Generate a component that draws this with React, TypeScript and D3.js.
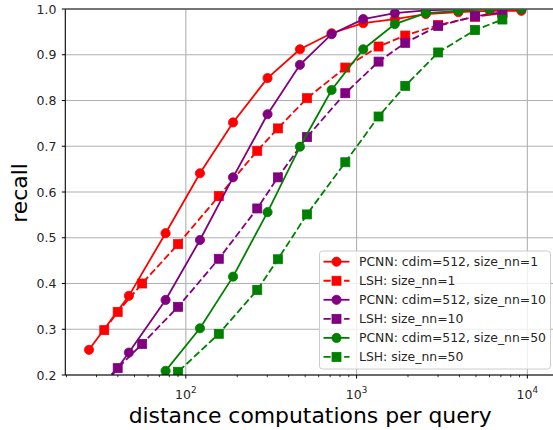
import React from 'react'
import * as d3 from 'd3'

// x positions (distance computations per query)
const pcnnX = [27.1, 46.4, 76.1, 121, 189, 301, 466, 714, 1094, 1675, 2543, 3948, 6020, 9225]
const lshX = [33.3, 39.9, 55.5, 90.1, 156, 262, 346, 512, 859, 1345, 1928, 3004, 4940, 7145]

// recall values (null = no point)
const pcnn1 = [0.255, 0.373, 0.51, 0.641, 0.752, 0.849, 0.912, 0.947, 0.969, 0.978, 0.989, 0.993, 0.996, 0.996]
const lsh1 = [0.298, 0.338, 0.4, 0.486, 0.591, 0.69, 0.739, 0.805, 0.872, 0.918, 0.942, 0.965, 0.983, 0.991]
const pcnn10 = [0.13, 0.249, 0.364, 0.495, 0.632, 0.77, 0.878, 0.945, 0.978, 0.991, 0.997, 0.999, 1.0, 1.0]
const lsh10 = [0.185, 0.215, 0.268, 0.349, 0.454, 0.564, 0.632, 0.72, 0.816, 0.885, 0.926, 0.963, 0.984, 0.993]
const pcnn50 = [null, 0.11, 0.209, 0.302, 0.415, 0.556, 0.699, 0.823, 0.912, 0.967, 0.991, 0.996, 1.0, 1.0]
const lsh50 = [null, null, 0.13, 0.207, 0.29, 0.386, 0.453, 0.551, 0.665, 0.765, 0.832, 0.905, 0.954, 0.977]

const series = [
  { label: 'PCNN: cdim=512, size_nn=1', color: 'red', x: pcnnX, y: pcnn1, dashed: false },
  { label: 'LSH: size_nn=1', color: 'red', x: lshX, y: lsh1, dashed: true },
  { label: 'PCNN: cdim=512, size_nn=10', color: 'purple', x: pcnnX, y: pcnn10, dashed: false },
  { label: 'LSH: size_nn=10', color: 'purple', x: lshX, y: lsh10, dashed: true },
  { label: 'PCNN: cdim=512, size_nn=50', color: 'green', x: pcnnX, y: pcnn50, dashed: false },
  { label: 'LSH: size_nn=50', color: 'green', x: lshX, y: lsh50, dashed: true },
]

const yTicks = [0.2, 0.3, 0.4, 0.5, 0.6, 0.7, 0.8, 0.9, 1.0]
const xTicks = [100, 1000, 10000]

const W = 553
const H = 430
const left = 65.3
const right = 555
const top = 9
const bottom = 375
const font = 'DejaVu Sans, sans-serif'
const DASH = '7.2,3.1'

const Marker = ({ cx, cy, square, color }) =>
  square ? (
    <rect x={cx - 4.5} y={cy - 4.5} width={9} height={9} fill={color} stroke={color} strokeWidth={0.8} />
  ) : (
    <circle cx={cx} cy={cy} r={4.6} fill={color} stroke={color} strokeWidth={0.8} />
  )

export default function App() {
  // log scale, set so 10^2..10^4 land on the measured pixels
  const x = d3
    .scaleLog()
    .domain([Math.pow(10, 2 - (186 - left) / 171), Math.pow(10, 4 + (right - 527.3) / 171)])
    .range([left, right])
  const y = d3.scaleLinear().domain([0.2, 1.0]).range([bottom, top])

  const line = d3
    .line<[number, number | null]>()
    .defined(d => d[1] != null)
    .x(d => x(d[0]))
    .y(d => y(d[1] as number))

  const minor: number[] = []
  for (let e = 1; e <= 4; e++) {
    for (let m = 2; m <= 9; m++) {
      const v = m * Math.pow(10, e)
      if (v > x.domain()[0] && v < x.domain()[1]) minor.push(v)
    }
  }

  const legX = 319.5
  const legY = 251
  const legW = 231
  const legH = 118
  const rowH = 19.05

  return (
    <svg width={W} height={H} style={{ position: 'absolute', left: 0, top: 0 }} fontFamily={font}>
      <defs>
        <clipPath id="plot">
          <rect x={left} y={top} width={right - left} height={bottom - top} />
        </clipPath>
      </defs>
      <rect width={W} height={H} fill="#fff" />

      {/* grid */}
      <g stroke="#b0b0b0" strokeWidth={1.1}>
        {yTicks.map(t => (
          <line key={'gy' + t} x1={left} x2={right} y1={y(t)} y2={y(t)} />
        ))}
        {xTicks.map(t => (
          <line key={'gx' + t} x1={x(t)} x2={x(t)} y1={top} y2={bottom} />
        ))}
      </g>

      {/* series */}
      <g clipPath="url(#plot)">
        {series.map(s => {
          const pts = s.x.map((v, i) => [v, s.y[i]] as [number, number | null])
          return (
            <g key={s.label}>
              <path
                d={line(pts) || ''}
                fill="none"
                stroke={s.color}
                strokeWidth={1.8}
                strokeDasharray={s.dashed ? DASH : undefined}
              />
              {pts
                .filter(p => p[1] != null)
                .map((p, i) => (
                  <Marker key={i} cx={x(p[0])} cy={y(p[1] as number)} square={s.dashed} color={s.color} />
                ))}
            </g>
          )
        })}
      </g>

      {/* spines */}
      <g stroke="#000" strokeWidth={1.1}>
        <line x1={left} x2={left} y1={top} y2={bottom} />
        <line x1={left} x2={right} y1={bottom} y2={bottom} />
        <line x1={left} x2={right} y1={top} y2={top} stroke="#555" strokeWidth={1.6} />
      </g>

      {/* y axis */}
      <g fontSize={12.5} fill="#262626">
        {yTicks.map(t => (
          <g key={'yt' + t}>
            <line x1={left - 3.5} x2={left} y1={y(t)} y2={y(t)} stroke="#000" strokeWidth={1} />
            <text x={56.5} y={y(t)} textAnchor="end" dominantBaseline="central">
              {t.toFixed(1)}
            </text>
          </g>
        ))}
      </g>

      {/* x axis */}
      <g fontSize={12.5} fill="#262626">
        {minor.map(t => (
          <line key={'mt' + t} x1={x(t)} x2={x(t)} y1={bottom} y2={bottom + 2.2} stroke="#000" strokeWidth={0.8} />
        ))}
        {xTicks.map(t => (
          <g key={'xt' + t}>
            <line x1={x(t)} x2={x(t)} y1={bottom} y2={bottom + 3.5} stroke="#000" strokeWidth={1} />
            <text x={x(t)} y={398.5} textAnchor="middle">
              10
              <tspan fontSize={8.8} dy={-5.5}>
                {Math.round(Math.log10(t))}
              </tspan>
            </text>
          </g>
        ))}
      </g>

      <text x={(left + right) / 2} y={423} textAnchor="middle" fontSize={21.9} fill="#000">
        distance computations per query
      </text>
      <text transform={`translate(27,193) rotate(-90)`} textAnchor="middle" fontSize={21.9} fill="#000">
        recall
      </text>

      {/* legend */}
      <rect x={legX} y={legY} width={legW} height={legH} rx={3} fill="#fff" fillOpacity={0.8} stroke="#cccccc" strokeWidth={1} />
      {series.map((s, i) => {
        const cy = legY + 10.7 + i * rowH
        return (
          <g key={'leg' + s.label}>
            <line
              x1={323.5}
              x2={349.5}
              y1={cy}
              y2={cy}
              stroke={s.color}
              strokeWidth={1.8}
              strokeDasharray={s.dashed ? DASH : undefined}
            />
            <Marker cx={336.5} cy={cy} square={s.dashed} color={s.color} />
            <text x={359} y={cy} dominantBaseline="central" fontSize={12.4} fill="#262626">
              {s.label}
            </text>
          </g>
        )
      })}
    </svg>
  )
}
